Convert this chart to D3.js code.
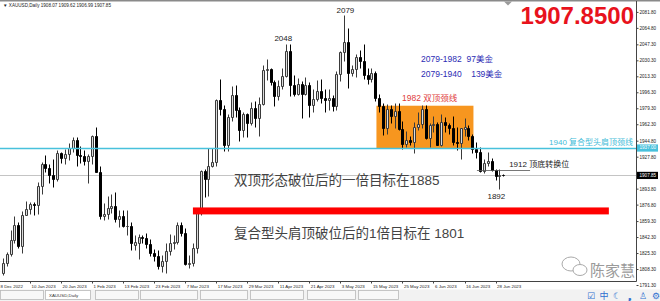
<!DOCTYPE html>
<html><head><meta charset="utf-8">
<script src="https://cdn.jsdelivr.net/npm/d3@7"></script>
<style>html,body{margin:0;padding:0;background:#fff;overflow:hidden}</style>
</head><body>
<svg id="c" width="660" height="301"></svg>
<script>
// ---------- DATA (XAUUSD Daily) ----------
const dates = ["2022-12-29","2022-12-30","2023-01-03","2023-01-04","2023-01-05","2023-01-06","2023-01-09","2023-01-10","2023-01-11","2023-01-12","2023-01-13","2023-01-16","2023-01-17","2023-01-18","2023-01-19","2023-01-20","2023-01-23","2023-01-24","2023-01-25","2023-01-26","2023-01-27","2023-01-30","2023-01-31","2023-02-01","2023-02-02","2023-02-03","2023-02-06","2023-02-07","2023-02-08","2023-02-09","2023-02-10","2023-02-13","2023-02-14","2023-02-15","2023-02-16","2023-02-17","2023-02-20","2023-02-21","2023-02-22","2023-02-23","2023-02-24","2023-02-27","2023-02-28","2023-03-01","2023-03-02","2023-03-03","2023-03-06","2023-03-07","2023-03-08","2023-03-09","2023-03-10","2023-03-13","2023-03-14","2023-03-15","2023-03-16","2023-03-17","2023-03-20","2023-03-21","2023-03-22","2023-03-23","2023-03-24","2023-03-27","2023-03-28","2023-03-29","2023-03-30","2023-03-31","2023-04-03","2023-04-04","2023-04-05","2023-04-06","2023-04-10","2023-04-11","2023-04-12","2023-04-13","2023-04-14","2023-04-17","2023-04-18","2023-04-19","2023-04-20","2023-04-21","2023-04-24","2023-04-25","2023-04-26","2023-04-27","2023-04-28","2023-05-01","2023-05-02","2023-05-03","2023-05-04","2023-05-05","2023-05-08","2023-05-09","2023-05-10","2023-05-11","2023-05-12","2023-05-15","2023-05-16","2023-05-17","2023-05-18","2023-05-19","2023-05-22","2023-05-23","2023-05-24","2023-05-25","2023-05-26","2023-05-29","2023-05-30","2023-05-31","2023-06-01","2023-06-02","2023-06-05","2023-06-06","2023-06-07","2023-06-08","2023-06-09","2023-06-12","2023-06-13","2023-06-14","2023-06-15","2023-06-16","2023-06-19","2023-06-20","2023-06-21","2023-06-22","2023-06-23","2023-06-26","2023-06-27","2023-06-28","2023-06-29","2023-06-30"];
const open  = [1804,1815,1824,1839,1855,1833,1866,1872,1877,1876,1897,1920,1916,1908,1904,1932,1926,1931,1937,1946,1930,1928,1923,1928,1950,1912,1865,1867,1873,1875,1861,1865,1854,1854,1834,1836,1842,1841,1835,1825,1822,1811,1817,1827,1836,1837,1855,1847,1814,1815,1831,1868,1913,1904,1918,1922,1988,1978,1940,1970,1993,1977,1956,1973,1964,1980,1969,1984,2020,2021,2007,1992,2003,2014,2040,2004,1995,2005,1994,2004,1983,1989,1998,1990,1988,1990,1982,2016,2039,2050,2017,2021,2034,2030,2015,2010,2017,1990,1982,1958,1978,1971,1976,1957,1941,1946,1943,1959,1963,1978,1948,1961,1963,1940,1965,1961,1958,1943,1942,1957,1958,1950,1936,1933,1913,1921,1923,1914,1907,1908.07];
const high  = [1820,1826,1850,1865,1858,1870,1881,1880,1880,1901,1922,1930,1920,1925,1935,1933,1936,1942,1949,1949,1939,1935,1931,1951,1959,1918,1879,1886,1888,1890,1871,1871,1871,1858,1845,1846,1845,1847,1840,1830,1828,1823,1836,1846,1844,1858,1858,1852,1823,1836,1870,1914,1915,1937,1937,1989,2010,1983,1973,2003,2004,1981,1975,1974,1986,1987,1991,2025,2032,2022,2009,2009,2022,2048,2048,2015,2012,2008,2013,2007,2000,2009,2010,2000,2000,1993,2019,2040,2079,2065,2025,2037,2041,2048,2022,2022,2019,1995,1985,1984,1983,1985,1985,1966,1955,1950,1965,1975,1983,1983,1964,1971,1965,1973,1970,1964,1971,1959,1958,1969,1961,1952,1943,1938,1925,1933,1926,1915,1915,1909.62];
const low   = [1802,1812,1822,1836,1831,1825,1866,1867,1866,1867,1888,1911,1900,1896,1902,1921,1920,1924,1933,1918,1921,1919,1900,1920,1911,1861,1860,1862,1868,1858,1853,1853,1844,1829,1829,1819,1836,1831,1822,1817,1808,1805,1804,1823,1830,1835,1843,1813,1809,1812,1825,1866,1885,1886,1917,1918,1972,1934,1934,1966,1970,1944,1949,1949,1961,1959,1950,1983,2009,2004,1982,1988,2000,2013,1992,1992,1993,1969,1993,1970,1975,1987,1985,1975,1977,1976,1977,2008,2030,2001,2014,2013,2022,2010,2005,2007,1987,1975,1951,1952,1964,1958,1956,1936,1938,1940,1932,1956,1958,1947,1938,1954,1940,1939,1954,1952,1940,1935,1925,1950,1946,1932,1926,1912,1910,1918,1913,1903,1893,1906.99];
const close = [1815,1824,1839,1855,1833,1866,1872,1877,1876,1897,1920,1916,1908,1904,1932,1926,1931,1937,1946,1930,1928,1923,1928,1950,1912,1865,1867,1873,1875,1861,1865,1854,1854,1836,1837,1842,1841,1835,1825,1822,1811,1817,1827,1836,1837,1855,1847,1814,1815,1831,1868,1913,1904,1918,1922,1988,1978,1940,1970,1993,1977,1956,1973,1964,1980,1969,1984,2020,2021,2007,1992,2003,2014,2040,2004,1995,2005,1994,2004,1983,1989,1998,1990,1988,1990,1982,2016,2039,2050,2017,2021,2034,2030,2015,2010,2017,1990,1982,1958,1978,1971,1976,1957,1941,1946,1943,1959,1963,1978,1948,1961,1963,1940,1965,1961,1958,1943,1942,1958,1959,1950,1936,1933,1913,1921,1923,1914,1907,1908,1907.85];

const priceTicks = [2081.80,2064.80,2047.30,2030.30,2013.30,1996.30,1979.30,1962.30,1944.80,1927.80,1893.80,1876.80,1859.30,1842.30,1825.30,1808.30,1791.30];
const timeTickPos    = [-1,7,15,23,31,39,47,55,63,71,79,87,95,103,111,119,127];
const timeTickLabels = ["8 Dec 2022","10 Jan 2023","20 Jan 2023","1 Feb 2023","13 Feb 2023","23 Feb 2023","7 Mar 2023","17 Mar 2023","29 Mar 2023","11 Apr 2023","21 Apr 2023","3 May 2023","15 May 2023","25 May 2023","6 Jun 2023","16 Jun 2023","28 Jun 2023"];

const lastPrice = 1907.85;
const necklinePrice = 1937.0;
const orangeZone = {i0:96.3, i1:121.3, top:1982, bottom:1937.0};
const redTarget  = {i0:49.0, i1:156.2, top:1873.8, bottom:1866.4};
const flipLine   = {i0:122.2, i1:135.9, v:1913.5};
const peakLabels = [{t:"2048", i:72.3, v:2051.2},{t:"2079", i:88.3, v:2080.6},{t:"1892", i:127.2, v:1882.7}];
const blueNotes  = [{t:"2079-1982  97美金", i:107.8, v:2028.6},{t:"2079-1940    139美金", i:107.8, v:2012.6}];
const bigNotes   = [{t:"双顶形态破位后的一倍目标在1885", i:59.6, v:1897.6},{t:"复合型头肩顶破位后的1倍目标在 1801", i:59.6, v:1841.2}];

// ---------- DRAW ----------
const svg = d3.select("#c");
const n = dates.length;
const plotR = 636.5, plotB = 281.5;
const x = d3.scaleLinear().domain([0, n-1]).range([2.8, 2.8 + (n-1)*3.88]);
const y = d3.scaleLinear().domain([1791.3, 2081.8]).range([285, 11.9]);
const cx = i => Math.round(x(i)) + 0.5;
const py = v => Math.round(y(v)) + 0.5;

svg.append("rect").attr("width",660).attr("height",301).attr("fill","#fff");
svg.append("defs").append("clipPath").attr("id","plot").append("rect")
  .attr("x",0).attr("y",1).attr("width",plotR).attr("height",plotB-1);

const g = svg.append("g").attr("clip-path","url(#plot)");

// orange zone
g.append("rect").attr("x",x(orangeZone.i0)).attr("width",x(orangeZone.i1)-x(orangeZone.i0))
  .attr("y",y(orangeZone.top)).attr("height",y(orangeZone.bottom)-y(orangeZone.top))
  .attr("fill","#f7961f");

// current price line
g.append("line").attr("x1",0).attr("x2",plotR).attr("y1",py(lastPrice)).attr("y2",py(lastPrice))
  .attr("stroke","#c4c4c4").attr("stroke-width",1);

// candles
const cg = g.append("g");
d3.range(n).forEach(i => {
  const bull = close[i] >= open[i];
  const c = cx(i);
  cg.append("line").attr("x1",c).attr("x2",c).attr("y1",py(high[i])).attr("y2",py(low[i]))
    .attr("stroke", bull ? "#3a3a3a" : "#000").attr("stroke-width",1);
  const t = py(Math.max(open[i],close[i])), b = py(Math.min(open[i],close[i]));
  cg.append("path").attr("d",`M${c-1},${t}H${c+1}V${b}H${c-1}Z`)
    .attr("fill", bull ? "#dcdcdc" : "#000")
    .attr("stroke", bull ? "#3a3a3a" : "#000").attr("stroke-width",1);
});

// neckline (cyan)
g.append("line").attr("x1",0).attr("x2",plotR).attr("y1",py(necklinePrice)).attr("y2",py(necklinePrice))
  .attr("stroke","#48c1dc").attr("stroke-width",1.3);

// red target bar
g.append("rect").attr("x",x(redTarget.i0)).attr("width",x(redTarget.i1)-x(redTarget.i0))
  .attr("y",y(redTarget.top)).attr("height",y(redTarget.bottom)-y(redTarget.top)).attr("fill","#ff0000");

// flip line
g.append("line").attr("x1",x(flipLine.i0)).attr("x2",x(flipLine.i1)).attr("y1",py(flipLine.v)).attr("y2",py(flipLine.v))
  .attr("stroke","#555").attr("stroke-width",0.8);

// texts in chart
const sans = "'Liberation Sans', Arial, sans-serif";
const cjk = "'Liberation Sans','Noto Sans CJK SC', sans-serif";
peakLabels.forEach(d => svg.append("text").attr("x",x(d.i)).attr("y",y(d.v)).attr("text-anchor","middle")
  .attr("font-family",sans).attr("font-size",8).attr("fill","#222").text(d.t));
blueNotes.forEach(d => svg.append("text").attr("x",x(d.i)).attr("y",y(d.v)).attr("xml:space","preserve")
  .attr("font-family",cjk).attr("font-size",8.5).attr("fill","#2c2cb4").text(d.t));
svg.append("text").attr("x",x(102.9)).attr("y",y(1987)).attr("font-family",cjk).attr("font-size",8.5)
  .attr("fill","#e03a3a").text("1982 双顶颈线");
svg.append("text").attr("x",x(140.8)).attr("y",y(1940.4)).attr("font-family",cjk).attr("font-size",8)
  .attr("fill","#3fbcd8").text("1940 复合型头肩顶颈线");
svg.append("text").attr("x",x(130.5)).attr("y",y(1916.3)).attr("font-family",cjk).attr("font-size",8)
  .attr("fill","#222").text("1912 顶底转换位");
bigNotes.forEach(d => svg.append("text").attr("x",x(d.i)).attr("y",y(d.v)).attr("xml:space","preserve")
  .attr("font-family",cjk).attr("font-size",13.5).attr("fill","#444").text(d.t));

svg.append("text").attr("x",634).attr("y",23.5).attr("text-anchor","end").attr("font-family",sans)
  .attr("font-weight","bold").attr("font-size",24).attr("fill","#e8121c").text("1907.8500");

// watermark
const wm = svg.append("g").attr("fill","none").attr("stroke","#aaa").attr("stroke-width",1);
wm.append("ellipse").attr("cx",571).attr("cy",264).attr("rx",9).attr("ry",7);
wm.append("ellipse").attr("cx",580).attr("cy",270).attr("rx",7).attr("ry",5.5).attr("fill","#fff");
svg.append("text").attr("x",590).attr("y",276).attr("font-family","'Noto Sans CJK SC'").attr("font-size",15)
  .attr("fill","#9a9a9a").text("陈家慧");

// frame
svg.append("line").attr("x1",0).attr("x2",660).attr("y1",0.75).attr("y2",0.75).attr("stroke","#8a8a8a").attr("stroke-width",1.5);
svg.append("path").attr("d","M504,1.5L512,1.5L508,5.5Z").attr("fill","#9a9a9a");
svg.append("line").attr("x1",plotR).attr("x2",plotR).attr("y1",1).attr("y2",plotB).attr("stroke","#444");
svg.append("line").attr("x1",0).attr("x2",plotR).attr("y1",plotB).attr("y2",plotB).attr("stroke","#444");

// price axis
const ya = svg.append("g").attr("transform",`translate(${plotR},0)`)
  .call(d3.axisRight(y).tickValues(priceTicks).tickSize(2).tickSizeOuter(0).tickPadding(1).tickFormat(d=>d.toFixed(2)));
ya.select(".domain").remove();
ya.selectAll("text").attr("font-family",sans).attr("font-size",4.6).attr("fill","#222");
ya.selectAll("line").attr("stroke","#444");

function priceBox(v, bg, label){
  svg.append("rect").attr("x",plotR+0.5).attr("y",y(v)-3.6).attr("width",21).attr("height",7.2).attr("fill",bg);
  svg.append("text").attr("x",plotR+3).attr("y",y(v)).attr("dy","0.32em").attr("font-family",sans)
    .attr("font-size",4.6).attr("fill","#fff").text(label);
}
priceBox(necklinePrice, "#48c1dc", necklinePrice.toFixed(2));
priceBox(lastPrice, "#000", lastPrice.toFixed(2));

// time axis
timeTickPos.forEach((p,k) => {
  const xx = Math.round(x(p)) + 0.5;
  svg.append("line").attr("x1",xx).attr("x2",xx).attr("y1",plotB).attr("y2",plotB+2).attr("stroke","#444");
  svg.append("text").attr("x",Math.max(0.5,x(p)+1.5)).attr("y",287.5).attr("font-family",sans)
    .attr("font-size",4.4).attr("fill","#222").text(timeTickLabels[k]);
});

// title
svg.append("text").attr("x",3).attr("y",7).attr("font-family",sans).attr("font-size",4.6).attr("fill","#222")
  .text("▼ XAUUSD,Daily  1908.07 1909.62 1906.99 1907.85");

// bottom tab strip
svg.append("rect").attr("x",0).attr("y",289.5).attr("width",660).attr("height",12).attr("fill","#f2f2f2");
const tabs = [[0,43],[45,90],[95,138],[140,197],[200,247],[250,303],[307,355],[358,398]];
tabs.forEach((t,k) => svg.append("rect").attr("x",t[0]+0.5).attr("y",290.5).attr("width",t[1]-t[0]).attr("height",9)
  .attr("fill", k===1 ? "#fff" : "#f7f7f7").attr("stroke","#b8b8b8").attr("stroke-width",0.8));
svg.append("text").attr("x",49).attr("y",296.5).attr("font-family",sans).attr("font-size",4.4).attr("fill","#333").text("XAUUSD,Daily");
const icons = ["☑","中","☾","❟","♙","⚙"];
icons.forEach((s,k) => svg.append("text").attr("x",591+k*13).attr("y",299).attr("text-anchor","middle")
  .attr("font-family","'DejaVu Sans','Noto Sans CJK SC'").attr("font-size",9).attr("fill","#2f6fd0").text(s));
</script>
</body></html>
